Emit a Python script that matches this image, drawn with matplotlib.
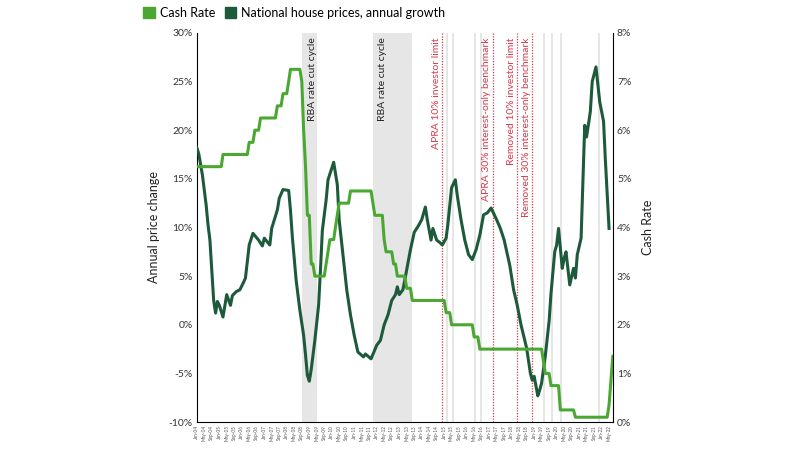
import numpy as np
import pandas as pd
import matplotlib
matplotlib.use('Agg')
import matplotlib.pyplot as plt
import matplotlib.ticker as mtick
from matplotlib.patches import Patch

plt.rcParams['font.family'] = ['Lato', 'DejaVu Sans']

# RBA cash rate decisions (month of change, new rate %)
cash_dates = ['2004-01', '2005-03', '2006-05', '2006-08', '2006-11', '2007-08',
              '2007-11', '2008-02', '2008-03', '2008-09', '2008-10', '2008-11',
              '2008-12', '2009-02', '2009-04', '2009-10', '2009-11', '2009-12',
              '2010-03', '2010-04', '2010-05', '2010-11', '2011-11', '2011-12',
              '2012-05', '2012-06', '2012-10', '2012-12', '2013-05', '2013-08',
              '2015-02', '2015-05', '2016-05', '2016-08', '2019-06', '2019-07',
              '2019-10', '2020-03', '2020-11', '2022-05', '2022-06', '2022-07']
cash_rates = [5.25, 5.50, 5.75, 6.00, 6.25, 6.50,
              6.75, 7.00, 7.25, 7.00, 6.00, 5.25,
              4.25, 3.25, 3.00, 3.25, 3.50, 3.75,
              4.00, 4.25, 4.50, 4.75, 4.50, 4.25,
              3.75, 3.50, 3.25, 3.00, 2.75, 2.50,
              2.25, 2.00, 1.75, 1.50, 1.25, 1.00,
              0.75, 0.25, 0.10, 0.35, 0.85, 1.35]

# national house prices, annual growth (%), one line per year
hp_dates = ['2004-01', '2004-02', '2004-04', '2004-06', '2004-07', '2004-08', '2004-09', '2004-10', '2004-11', '2004-12',
            '2005-01', '2005-03', '2005-05', '2005-07', '2005-08', '2005-10', '2005-12',
            '2006-02', '2006-03', '2006-05', '2006-07', '2006-10', '2006-12',
            '2007-01', '2007-04', '2007-05', '2007-08', '2007-09', '2007-11',
            '2008-02', '2008-03', '2008-04', '2008-06', '2008-08', '2008-10', '2008-11', '2008-12',
            '2009-01', '2009-02', '2009-04', '2009-06', '2009-07', '2009-08', '2009-10', '2009-11',
            '2010-02', '2010-04', '2010-05', '2010-07', '2010-09', '2010-11',
            '2011-01', '2011-03', '2011-06', '2011-07', '2011-10',
            '2012-01', '2012-03', '2012-05', '2012-07', '2012-09', '2012-11', '2012-12',
            '2013-01', '2013-03', '2013-04', '2013-06', '2013-07', '2013-09', '2013-11',
            '2014-01', '2014-03', '2014-04', '2014-06', '2014-07', '2014-09', '2014-11', '2014-12',
            '2015-02', '2015-03', '2015-05', '2015-07', '2015-08', '2015-10', '2015-12',
            '2016-02', '2016-04', '2016-06', '2016-08', '2016-10', '2016-12',
            '2017-02', '2017-05', '2017-07', '2017-09', '2017-12',
            '2018-02', '2018-04', '2018-06', '2018-09', '2018-11', '2018-12',
            '2019-01', '2019-03', '2019-04', '2019-05', '2019-07', '2019-09', '2019-10', '2019-12',
            '2020-01', '2020-02', '2020-04', '2020-05', '2020-06', '2020-08', '2020-10', '2020-11', '2020-12',
            '2021-02', '2021-04', '2021-05', '2021-07', '2021-08', '2021-10', '2021-12',
            '2022-02', '2022-03', '2022-05']
hp_values = [18.2, 17.6, 15.4, 12.3, 10.3, 8.7, 5.6, 2.5, 1.2, 2.4,
             2.0, 0.8, 3.1, 2.0, 3.0, 3.4, 3.6,
             4.4, 4.8, 8.2, 9.4, 8.7, 8.1,
             8.9, 8.2, 9.9, 11.8, 13.0, 13.9,
             13.8, 11.8, 9.0, 4.6, 1.5, -1.1, -3.1, -5.2,
             -5.8, -4.6, -1.6, 2.0, 5.6, 9.7, 12.8, 14.9,
             16.7, 14.4, 10.8, 7.2, 3.6, 1.0,
             -1.1, -2.8, -3.3, -3.0, -3.5,
             -2.1, -1.6, 0.0, 1.0, 2.5, 3.1, 3.9,
             3.1, 3.6, 4.6, 6.7, 7.7, 9.5, 10.1,
             10.8, 12.1, 10.8, 8.7, 9.9, 8.7, 8.4, 8.2,
             8.9, 10.3, 14.1, 14.9, 13.3, 10.8, 8.7,
             7.2, 6.7, 7.7, 9.2, 11.3, 11.5,
             12.0, 10.8, 9.9, 8.7, 6.1,
             3.6, 2.0, 0.0, -2.4, -5.0, -5.7,
             -5.3, -7.3, -6.7, -6.0, -3.2, 0.4, 3.2, 7.5,
             8.2, 9.9, 5.8, 6.8, 7.5, 4.1, 5.8, 4.8, 7.2,
             8.9, 20.5, 19.3, 21.9, 25.0, 26.5, 22.9,
             20.9, 17.1, 9.9]

# annotations
cut_cycles = [('2008-09', '2009-05'), ('2011-11', '2013-08')]
cut_months = ['2015-02', '2015-05', '2016-05', '2016-08', '2019-06', '2019-10',
              '2020-03', '2021-11']
apra_dates = ['2014-12', '2017-03', '2018-04', '2018-12']
apra_labels = ['APRA 10% investor limit', 'APRA 30% interest-only benchmark',
               'Removed 10% investor limit', 'Removed 30% interest-only benchmark']

months = pd.date_range('2004-01-01', '2022-07-01', freq='MS')
cash = pd.Series(cash_rates, index=pd.to_datetime(cash_dates)).reindex(months).ffill()
hp = pd.Series(hp_values, index=pd.to_datetime(hp_dates))

light = '#4aa832'
dark = '#1d5a3c'
red = '#d63a4a'

fig = plt.figure(figsize=(8, 4.5), dpi=100)
ax = fig.add_axes([0.246, 0.062, 0.520, 0.865])
ax2 = ax.twinx()

for i, (a, b) in enumerate(cut_cycles):
    ta, tb = pd.Timestamp(a), pd.Timestamp(b)
    ax.axvspan(ta, tb, color='#e6e6e6', lw=0, zorder=0)
    tx = tb - pd.Timedelta(days=75) if i == 0 else ta + pd.Timedelta(days=150)
    ax.text(tx, 29.5, 'RBA rate cut cycle', rotation=90, va='top', ha='center',
            fontsize=7.5, color='#222222')
for m in cut_months:
    t = pd.Timestamp(m)
    ax.axvspan(t, t + pd.Timedelta(days=31), color='#e6e6e6', lw=0, zorder=0)

for d, lab in zip(apra_dates, apra_labels):
    t = pd.Timestamp(d)
    ax.axvline(t, color=red, lw=0.9, ls=(0, (1, 1.2)), zorder=1)
    ax.text(t - pd.Timedelta(days=100), 29.5, lab, rotation=90, va='top', ha='center',
            fontsize=7.5, color=red)

ax.plot(hp.index, hp.values, color=dark, lw=2.2, zorder=3)
ax2.plot(cash.index, cash.values, color=light, lw=2.2, zorder=3)

ax.set_ylim(-10, 30)
ax.set_yticks(np.arange(-10, 31, 5))
ax.yaxis.set_major_formatter(mtick.FuncFormatter(lambda v, p: '%d%%' % v))
ax2.set_ylim(0, 8)
ax2.set_yticks(np.arange(0, 9, 1))
ax2.yaxis.set_major_formatter(mtick.FuncFormatter(lambda v, p: '%d%%' % v))
ax.set_xlim(months[0], months[-1])

ticks = pd.date_range('2004-01-01', '2022-07-01', freq='4MS')
ax.set_xticks(ticks)
ax.set_xticklabels([t.strftime('%b-%y') for t in ticks], rotation=90, fontsize=3.3, color='#555555')

for a in (ax, ax2):
    a.tick_params(axis='y', length=0, labelsize=7.5, labelcolor='#333333', pad=3)
    a.tick_params(axis='x', length=0, pad=2)
    a.spines['top'].set_visible(False)
ax.spines['right'].set_visible(False)
ax2.spines['left'].set_visible(False)
ax2.spines['bottom'].set_visible(False)

ax.set_ylabel('Annual price change', fontsize=9, color='#222222', labelpad=6)
ax2.set_ylabel('Cash Rate', fontsize=9, color='#222222', labelpad=8)

handles = [Patch(facecolor=light, edgecolor=light), Patch(facecolor=dark, edgecolor=dark)]
fig.legend(handles, ['Cash Rate', 'National house prices, annual growth'],
           loc='upper left', bbox_to_anchor=(0.165, 1.01), ncol=2, frameon=False,
           fontsize=9, handlelength=0.9, handleheight=0.9, handletextpad=0.4,
           columnspacing=0.8)

fig.savefig('out.png', dpi=100)
